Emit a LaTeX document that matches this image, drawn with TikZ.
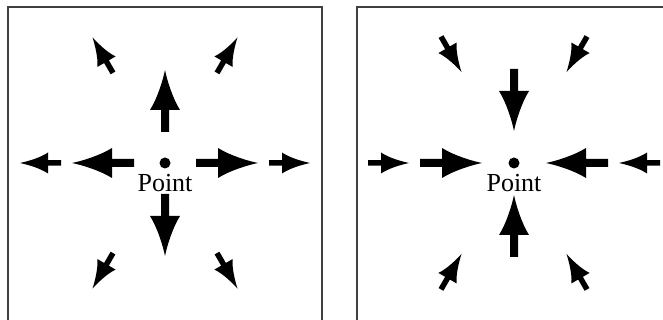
\documentclass[tikz,border=0pt]{standalone}
\usepackage{fontspec}
\setmainfont{Liberation Serif}
\usetikzlibrary{calc}
\tikzset{
  pics/bigarrow/.style={code={
    \fill (0,-4) -- (22,-4) -- (22,-15) .. controls (34,-7.5) and (52,-2) .. (62,0)
      .. controls (52,2) and (34,7.5) .. (22,15) -- (22,4) -- (0,4) -- cycle;
  }},
  pics/smallarrow/.style={code={
    \fill (0,-2.75) -- (13,-2.75) -- (13,-10.5) .. controls (21,-5) and (34,-1.5) .. (41,0)
      .. controls (34,1.5) and (21,5) .. (13,10.5) -- (13,2.75) -- (0,2.75) -- cycle;
  }},
  panel/.style={draw=black!75,line width=1pt},
  lbl/.style={font=\fontsize{13}{15}\selectfont,inner sep=0pt}
}
\begin{document}
\begin{tikzpicture}[x=0.5pt,y=0.5pt]
            \useasboundingbox (0,0) rectangle (663,320);
            \draw[panel] (8,-5) |- (322,313) -- (322,-5);
            \draw[panel] (357,-5) |- (670,313);
            % source
            \coordinate (c1) at (165,157);
            \fill (c1) circle (5.5);
            \node[lbl,anchor=base] (p1) at (165,128) {Point};
            \foreach \a in {0,90,180,270}
                \pic[rotate=\a] at ($(c1)+(\a:31)$) {bigarrow};
            \foreach \a in {0,60,...,300}
                \pic[rotate=\a] at ($(c1)+(\a:104)$) {smallarrow};
            % sink
            \coordinate (c2) at (514,157);
            \fill (c2) circle (5.5);
            \node[lbl,anchor=base] (p2) at (514,128) {Point};
            \foreach \a in {0,90,180,270}
                \pic[rotate=\a+180] at ($(c2)+(\a:94)$) {bigarrow};
            \foreach \a in {0,60,...,300}
                \pic[rotate=\a+180] at ($(c2)+(\a:146)$) {smallarrow};
        \end{tikzpicture}
\end{document}
